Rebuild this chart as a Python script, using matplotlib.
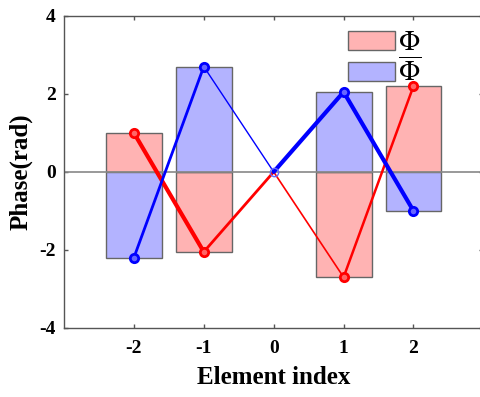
import numpy as np
import matplotlib.pyplot as plt

# 各素子の位相データ
element_index = [-2, -1, 0, 1, 2]
phase_phi = [1.0, -2.05, 0.0, -2.7, 2.2]        # Φ
phase_phi_bar = [-2.2, 2.7, 0.0, 2.05, -1.0]    # Φの共役

# 線分ごとの線幅
lw_phi = [3.0, 2.0, 1.2, 1.8]
lw_phi_bar = [2.0, 1.0, 3.0, 3.0]

plt.rcParams['font.family'] = ['Liberation Serif', 'DejaVu Serif']
plt.rcParams['mathtext.fontset'] = 'stix'
plt.rcParams['axes.unicode_minus'] = False

fig = plt.figure(figsize=(4.81, 3.97), dpi=100)
ax = fig.add_axes([0.133, 0.174, 0.872, 0.786])

# 棒グラフ（重ね描き）、高さ0の棒は枠を描かない
ax.bar(element_index, phase_phi, width=0.8, color='#ffb3b3', edgecolor='#666666',
       linewidth=[0 if v == 0 else 1.0 for v in phase_phi], label=r'$\Phi$', zorder=1)
ax.bar(element_index, phase_phi_bar, width=0.8, color='#b3b3ff', edgecolor='#666666',
       linewidth=[0 if v == 0 else 1.0 for v in phase_phi_bar],
       label=r'$\overline{\Phi}$', zorder=1)

# ゼロ線
ax.axhline(0, color='#888888', linewidth=1.2, zorder=2)

# 折れ線（線分ごとに太さを変える）
for i in range(len(element_index) - 1):
    ax.plot(element_index[i:i + 2], phase_phi[i:i + 2], color='red',
            linewidth=lw_phi[i], solid_capstyle='round', zorder=3)
    ax.plot(element_index[i:i + 2], phase_phi_bar[i:i + 2], color='blue',
            linewidth=lw_phi_bar[i], solid_capstyle='round', zorder=3)

# マーカー
for x, y in zip(element_index, phase_phi):
    if x == 0:
        continue
    ax.plot(x, y, 'o', color='red', markersize=6, markerfacecolor='#ff6666',
            markeredgewidth=2, zorder=4)
for x, y in zip(element_index, phase_phi_bar):
    if x == 0:
        continue
    ax.plot(x, y, 'o', color='blue', markersize=6, markerfacecolor='#6666ff',
            markeredgewidth=2, zorder=4)
ax.plot(0, 0, 'o', color='#6666ff', markersize=6, markerfacecolor='none',
        markeredgewidth=1, zorder=4)

ax.set_xlim(-3, 3)
ax.set_ylim(-4, 4)
ax.set_xticks(element_index)
ax.set_yticks([-4, -2, 0, 2, 4])
ax.tick_params(direction='in', length=3, top=True, right=True, width=1,
               color='#555555', labelsize=14, pad=6)
ax.tick_params(axis='x', pad=9)
for lab in ax.get_xticklabels() + ax.get_yticklabels():
    lab.set_fontweight('bold')
for s in ax.spines.values():
    s.set_color('#555555')
    s.set_linewidth(1.0)

ax.set_xlabel('Element index', fontsize=18, fontweight='bold', labelpad=6)
ax.set_ylabel('Phase(rad)', fontsize=18, fontweight='bold', labelpad=5)

ax.legend(loc='upper left', bbox_to_anchor=(0.624, 1.023), frameon=False,
          fontsize=20, handlelength=1.7, handleheight=0.68, labelspacing=0.05,
          handletextpad=0.1, borderpad=0.3)

plt.savefig('out.png', dpi=100)
